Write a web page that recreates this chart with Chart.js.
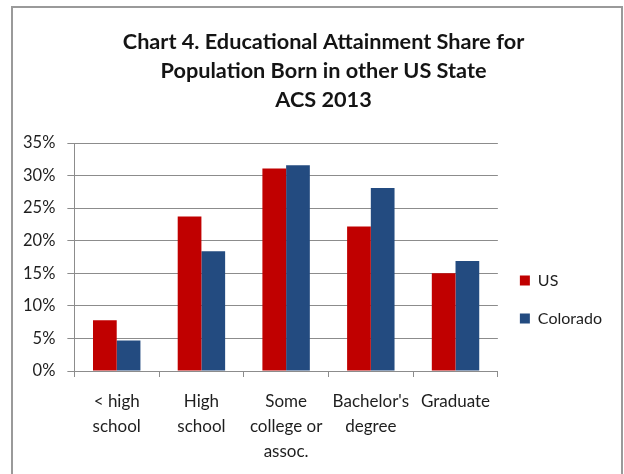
<!DOCTYPE html>
<html>
<head>
<meta charset="utf-8">
<title>Chart 4. Educational Attainment Share</title>
<script src="https://cdn.jsdelivr.net/npm/chart.js@4/dist/chart.umd.min.js"></script>
<style>
    html, body { margin: 0; padding: 0; background: #fff; }
    #frame {
        position: absolute; left: 11px; top: 6px;
        width: 612px; height: 500px;
        box-sizing: border-box;
        border: 2px solid #9a9a9a;
    }
    #wrap { position: absolute; left: 0; top: 0; width: 624px; height: 474px; }
</style>
</head>
<body>
<div id="frame"></div>
<div id="wrap"><canvas id="eduChart" width="624" height="474"></canvas></div>
<script>
// Chart data (ACS 2013, share of population born in other US state)
const categories = [
    ['< high', 'school'],
    ['High', 'school'],
    ['Some', 'college or', 'assoc.'],
    ["Bachelor's", 'degree'],
    ['Graduate']
];
const usValues = [7.8, 23.7, 31.1, 22.2, 15.0];
const coloradoValues = [4.7, 18.4, 31.6, 28.1, 16.9];
const yTicks = [0, 5, 10, 15, 20, 25, 30, 35];

const FONT = 'Lato, "Open Sans", sans-serif';
const GRID = '#8c8c8c';

Chart.defaults.font.family = FONT;
Chart.defaults.color = '#1e1e1e';

// The original title sits a bit right of the canvas centre
const shiftTitle = {
    id: 'shiftTitle',
    afterLayout(chart) {
        if (chart.titleBlock) chart.titleBlock.left += 24;
    }
};

new Chart(document.getElementById('eduChart'), {
    type: 'bar',
    data: {
        labels: categories,
        datasets: [
            { label: 'US', data: usValues, backgroundColor: '#c00000' },
            { label: 'Colorado', data: coloradoValues, backgroundColor: '#234b80' }
        ]
    },
    plugins: [shiftTitle],
    options: {
        responsive: false,
        animation: false,
        layout: { padding: { left: 11, right: 12, top: 0, bottom: 0 } },
        datasets: {
            bar: { barPercentage: 1, categoryPercentage: 0.56 }
        },
        plugins: {
            title: {
                display: true,
                text: [
                    'Chart 4. Educational Attainment Share for',
                    'Population Born in other US State',
                    'ACS 2013'
                ],
                color: '#141414',
                font: { size: 21.7, weight: 'bold', lineHeight: 29 / 21.7 },
                padding: { top: 28, bottom: 28 }
            },
            legend: {
                position: 'right',
                align: 'start',
                fullSize: false,
                // empty legend title used only as a spacer to push items down
                title: { display: true, text: '', font: { size: 12 }, padding: { top: 93, bottom: 0 } },
                labels: {
                    boxWidth: 10,
                    boxHeight: 10,
                    padding: 22,
                    font: { size: 16 }
                }
            },
            tooltip: { enabled: false }
        },
        scales: {
            x: {
                afterFit: (scale) => { scale.height -= 2; },
                grid: {
                    drawOnChartArea: false,
                    drawTicks: true,
                    tickLength: 6,
                    color: GRID
                },
                border: { color: GRID },
                ticks: {
                    font: { size: 17, lineHeight: 25 / 17 },
                    padding: 12,
                    maxRotation: 0,
                    autoSkip: false
                }
            },
            y: {
                min: 0,
                max: 35,
                afterBuildTicks: (scale) => {
                    scale.ticks = yTicks.map(v => ({ value: v }));
                },
                grid: { color: GRID, tickLength: 7 },
                border: { color: GRID },
                ticks: {
                    font: { size: 16.5 },
                    padding: 12,
                    callback: (v) => v + '%'
                }
            }
        }
    }
});
</script>
</body>
</html>
